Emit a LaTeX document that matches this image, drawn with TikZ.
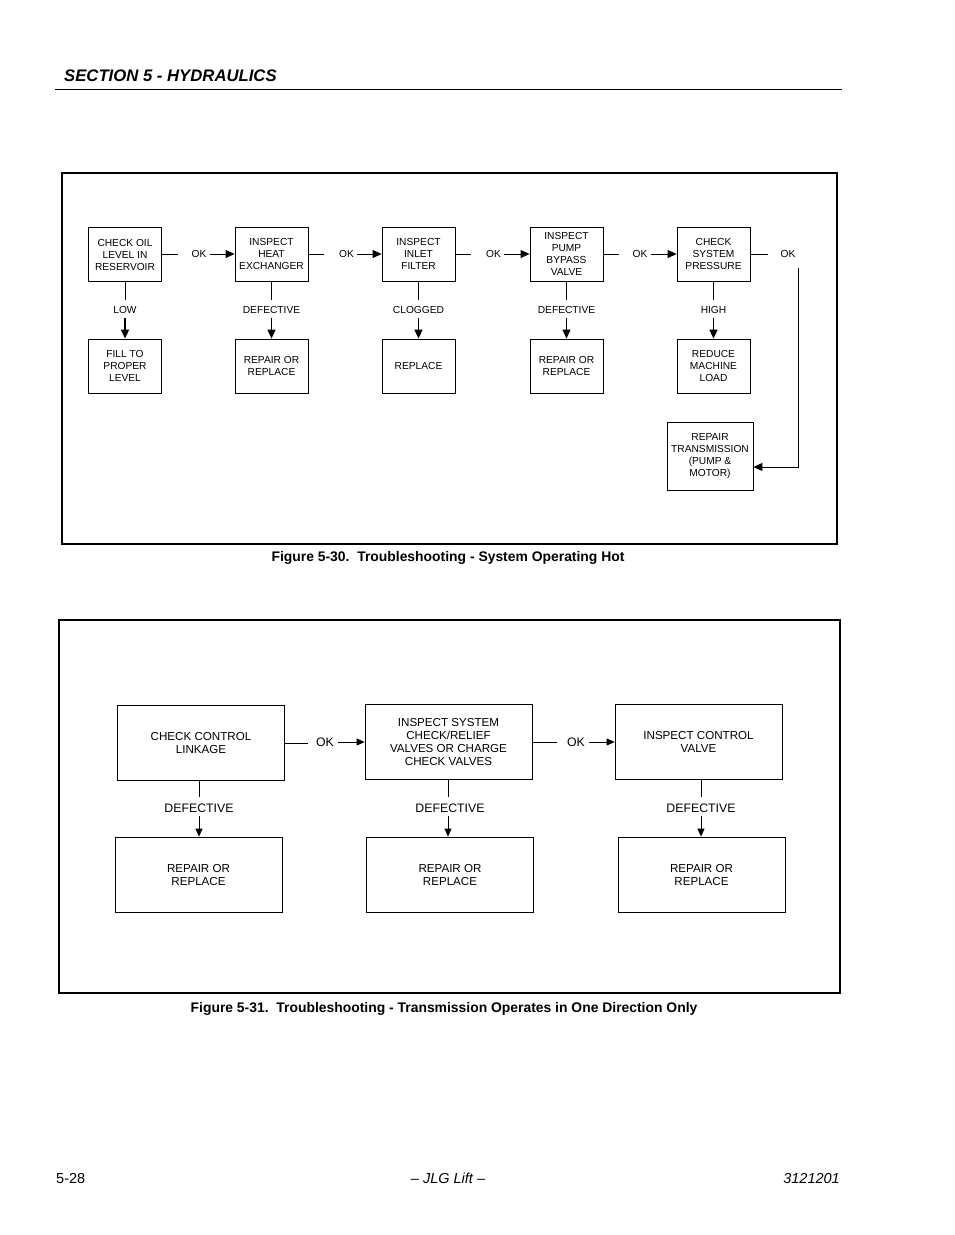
\documentclass[tikz,border=0pt]{standalone}
\usepackage{fontspec}
\setmainfont{Liberation Sans}
\usetikzlibrary{arrows.meta}
\begin{document}
\begin{tikzpicture}[x=1pt,y=-1pt,
  boxA/.style={draw,line width=0.8pt,minimum width=73pt,minimum height=54pt,inner sep=1pt,align=center,font=\fontsize{10.2}{12}\selectfont},
  boxB/.style={draw,line width=0.8pt,minimum width=167pt,minimum height=75pt,inner sep=1pt,align=center,font=\fontsize{11.6}{13}\selectfont},
  lblA/.style={inner sep=0pt,font=\fontsize{10.2}{12}\selectfont},
  lblB/.style={inner sep=0pt,font=\fontsize{12.3}{13}\selectfont},
  conn/.style={line width=0.9pt},
  connT/.style={line width=1.6pt},
  arrA/.style={line width=0.9pt,-{Triangle[length=9pt,width=8pt]}},
  arrAT/.style={line width=1.6pt,-{Triangle[length=9pt,width=8pt]}},
  arrB/.style={line width=0.8pt,-{Triangle[length=8pt,width=7pt]}},
  frame/.style={draw,line width=2pt}
]
\useasboundingbox (0,0) rectangle (954,1235);
% header
\node[anchor=base west,inner sep=0pt,font=\fontsize{16.7}{18}\selectfont\bfseries\itshape] (hdr) at (64,81) {SECTION 5 - HYDRAULICS};
\draw[line width=1pt] (55,89) -- (842,89);
% ---------- Figure 5-30 ----------
\draw[frame] (62,173) rectangle (837,544);
\node[anchor=base,inner sep=0pt,font=\fontsize{13.9}{15}\selectfont\bfseries] (cap1) at (448,561) {Figure 5-30.\ \ Troubleshooting - System Operating Hot};

\node[boxA] (t1) at (125,254.5) {CHECK OIL\\LEVEL IN\\RESERVOIR};
\node[boxA] (t2) at (271.5,254) {INSPECT\\HEAT\\EXCHANGER};
\node[boxA] (t3) at (418.5,254) {INSPECT\\INLET\\FILTER};
\node[boxA] (t4) at (566.5,254) {INSPECT\\PUMP\\BYPASS\\VALVE};
\node[boxA] (t5) at (713.5,254) {CHECK\\SYSTEM\\PRESSURE};

\node[boxA] (b1) at (125,366) {FILL TO\\PROPER\\LEVEL};
\node[boxA] (b2) at (271.5,366) {REPAIR OR\\REPLACE};
\node[boxA] (b3) at (418.5,366) {REPLACE};
\node[boxA] (b4) at (566.5,366) {REPAIR OR\\REPLACE};
\node[boxA] (b5) at (713.5,366) {REDUCE\\MACHINE\\LOAD};
\node[boxA,minimum width=86pt,minimum height=68pt] (b6) at (710,456) {REPAIR\\TRANSMISSION\\(PUMP \&\\MOTOR)};

% OK labels
\node[lblA] (ok1) at (199,254) {OK};
\node[lblA] (ok2) at (346.5,254) {OK};
\node[lblA] (ok3) at (493.5,254) {OK};
\node[lblA] (ok4) at (640,254) {OK};
\node[lblA] (ok5) at (788,254) {OK};
\draw[conn] (t1.east) -- ++(16,0);
\draw[arrA] ([xshift=3pt]ok1.east) -- (t2.west);
\draw[conn] (t2.east) -- ++(16,0);
\draw[arrA] ([xshift=3pt]ok2.east) -- (t3.west);
\draw[conn] (t3.east) -- ++(16,0);
\draw[arrA] ([xshift=3pt]ok3.east) -- (t4.west);
\draw[conn] (t4.east) -- ++(16,0);
\draw[arrA] ([xshift=3pt]ok4.east) -- (t5.west);
\draw[conn] (t5.east) -- ++(18,0);
\coordinate (c1) at (798,268);
\draw[arrA] (c1) |- ([yshift=-11pt]b6.east);

% vertical labels
\node[lblA] (d1) at (125,310) {LOW};
\node[lblA] (d2) at (271.5,310) {DEFECTIVE};
\node[lblA] (d3) at (418.5,310) {CLOGGED};
\node[lblA] (d4) at (566.5,310) {DEFECTIVE};
\node[lblA] (d5) at (713.5,310) {HIGH};
\draw[conn] (t1.south) -- ([yshift=6pt]d1.north);
\draw[arrAT] ([yshift=-4pt]d1.south) -- (b1.north);
\draw[conn] (t2.south) -- ([yshift=6pt]d2.north);
\draw[arrA] ([yshift=-4pt]d2.south) -- (b2.north);
\draw[connT] (t3.south) -- ([yshift=6pt]d3.north);
\draw[arrAT] ([yshift=-4pt]d3.south) -- (b3.north);
\draw[conn] (t4.south) -- ([yshift=6pt]d4.north);
\draw[arrA] ([yshift=-4pt]d4.south) -- (b4.north);
\draw[connT] (t5.south) -- ([yshift=6pt]d5.north);
\draw[arrAT] ([yshift=-4pt]d5.south) -- (b5.north);

% ---------- Figure 5-31 ----------
\draw[frame] (59,620) rectangle (840,993);
\node[anchor=base,inner sep=0pt,font=\fontsize{13.9}{15}\selectfont\bfseries] (cap2) at (444,1012) {Figure 5-31.\ \ Troubleshooting - Transmission Operates in One Direction Only};

\node[boxB] (s1) at (201,743) {CHECK CONTROL\\LINKAGE};
\node[boxB] (s2) at (448.5,742) {INSPECT SYSTEM\\CHECK/RELIEF\\VALVES OR CHARGE\\CHECK VALVES};
\node[boxB] (s3) at (698.5,742) {INSPECT CONTROL\\VALVE};
\node[boxB] (r1) at (198.5,874.5) {REPAIR OR\\REPLACE};
\node[boxB] (r2) at (450,874.5) {REPAIR OR\\REPLACE};
\node[boxB] (r3) at (701.5,874.5) {REPAIR OR\\REPLACE};

\node[lblB] (k1) at (325,742) {OK};
\node[lblB] (k2) at (576,742) {OK};
\draw[line width=0.8pt] (s1.east) -- ++(23,0);
\draw[arrB] ([xshift=4pt]k1.east) -- (s2.west);
\draw[line width=0.8pt] (s2.east) -- ++(25,0);
\draw[arrB] ([xshift=4pt]k2.east) -- (s3.west);

\node[lblB] (e1) at (199,808) {DEFECTIVE};
\node[lblB] (e2) at (450,808) {DEFECTIVE};
\node[lblB] (e3) at (701,808) {DEFECTIVE};
\draw[line width=0.8pt] (s1.south -| 199,0) -- ([yshift=6pt]e1.north -| 199,0);
\draw[arrB] ([yshift=-3pt]e1.south -| 199,0) -- (r1.north -| 199,0);
\draw[line width=0.8pt] (s2.south -| 448,0) -- ([yshift=6pt]e2.north -| 448,0);
\draw[arrB] ([yshift=-3pt]e2.south -| 448,0) -- (r2.north -| 448,0);
\draw[line width=0.8pt] (s3.south -| 701,0) -- ([yshift=6pt]e3.north -| 701,0);
\draw[arrB] ([yshift=-3pt]e3.south -| 701,0) -- (r3.north -| 701,0);

% footer
\node[anchor=base west,inner sep=0pt,font=\fontsize{14.5}{16}\selectfont] (pg) at (56,1183) {5-28};
\node[anchor=base,inner sep=0pt,font=\fontsize{14.5}{16}\selectfont\itshape] (mid) at (448,1183) {– JLG Lift –};
\node[anchor=base east,inner sep=0pt,font=\fontsize{14.5}{16}\selectfont\itshape] (num) at (840,1183) {3121201};
\end{tikzpicture}
\end{document}
